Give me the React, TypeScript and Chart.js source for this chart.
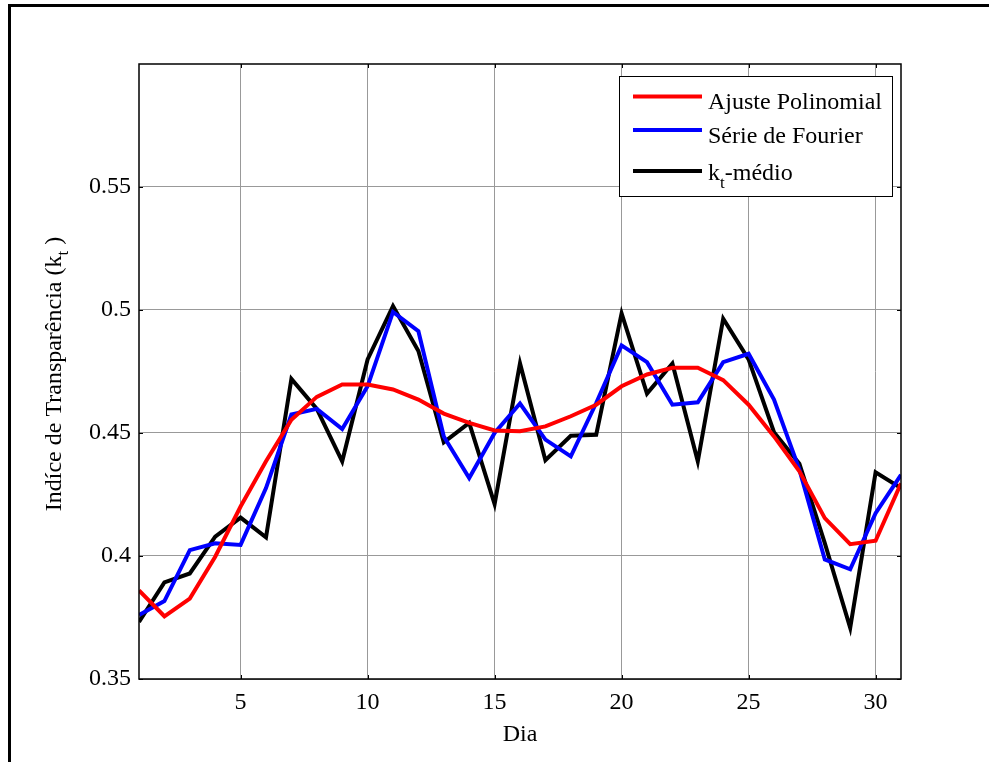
import React, { useEffect, useRef } from "react";
import { Chart, registerables } from "chart.js";

Chart.register(...registerables);

const days = [1, 2, 3, 4, 5, 6, 7, 8, 9, 10, 11, 12, 13, 14, 15, 16, 17, 18, 19, 20, 21, 22, 23, 24, 25, 26, 27, 28, 29, 30, 31];

const ajustePolinomial = [0.386, 0.3755, 0.3827, 0.3997, 0.4201, 0.4385, 0.4554, 0.4647, 0.4697, 0.4697, 0.4677, 0.4636, 0.4579, 0.4541, 0.451, 0.4507, 0.4527, 0.4568, 0.4615, 0.469, 0.4738, 0.4765, 0.4765, 0.4715, 0.4615, 0.4486, 0.4344, 0.4154, 0.4048, 0.4062, 0.4296];

const serieFourier = [0.376, 0.3817, 0.4024, 0.4052, 0.4045, 0.4276, 0.4575, 0.4598, 0.4516, 0.469, 0.4992, 0.4914, 0.4486, 0.4317, 0.45, 0.462, 0.4473, 0.4405, 0.4622, 0.4856, 0.4788, 0.4615, 0.4625, 0.4788, 0.4822, 0.4636, 0.4351, 0.3986, 0.3946, 0.4174, 0.433];

const ktMedio = [0.3732, 0.3893, 0.3929, 0.4079, 0.4156, 0.4076, 0.472, 0.4598, 0.4385, 0.4799, 0.5016, 0.4833, 0.4462, 0.4541, 0.4211, 0.4783, 0.4389, 0.4489, 0.4493, 0.4986, 0.466, 0.4783, 0.4385, 0.4965, 0.4799, 0.4503, 0.4375, 0.4052, 0.3708, 0.434, 0.4276];

const xTicks = [5, 10, 15, 20, 25, 30];
const yTicks = [0.35, 0.4, 0.45, 0.5, 0.55];
const yTickLabels = ["0.35", "0.4", "0.45", "0.5", "0.55"];

const xTitle = "Dia";
const yTitleMain = "Indíce de Transparência (k";
const yTitleSub = "t";
const yTitleEnd = " )";

const seriesLabels = ["Ajuste Polinomial", "Série de Fourier", "k-médio"];
const seriesColors = ["#ff0000", "#0000ff", "#000000"];

const FONT = "'Liberation Serif', 'Times New Roman', serif";

const decorPlugin = {
  id: "decor",
  beforeDraw(chart: any) {
    const { ctx, width, height } = chart;
    ctx.save();
    ctx.fillStyle = "#ffffff";
    ctx.fillRect(0, 0, width, height);
    ctx.restore();
  },
  afterDraw(chart: any) {
    const { ctx, chartArea, scales } = chart;
    const { left, right, top, bottom } = chartArea;
    const xs = scales.x;
    const ys = scales.y;
    ctx.save();
    // box
    ctx.strokeStyle = "#000";
    ctx.lineWidth = 1.5;
    ctx.strokeRect(left, top, right - left, bottom - top);
    // inward ticks
    ctx.lineWidth = 1;
    ctx.beginPath();
    for (const t of xTicks) {
      const px = Math.round(xs.getPixelForValue(t)) + 0.5;
      ctx.moveTo(px, bottom);
      ctx.lineTo(px, bottom - 4);
      ctx.moveTo(px, top);
      ctx.lineTo(px, top + 4);
    }
    for (const t of yTicks) {
      const py = Math.round(ys.getPixelForValue(t)) + 0.5;
      ctx.moveTo(left, py);
      ctx.lineTo(left + 4, py);
      ctx.moveTo(right, py);
      ctx.lineTo(right - 4, py);
    }
    ctx.stroke();

    // x title
    ctx.fillStyle = "#000";
    ctx.font = `24px ${FONT}`;
    ctx.textAlign = "center";
    ctx.textBaseline = "alphabetic";
    ctx.fillText(xTitle, (left + right) / 2, 741);

    // y title (rotated with subscript)
    const mainFont = `24px ${FONT}`;
    const subFont = `17px ${FONT}`;
    ctx.font = mainFont;
    const w1 = ctx.measureText(yTitleMain).width;
    const w3 = ctx.measureText(yTitleEnd).width;
    ctx.font = subFont;
    const w2 = ctx.measureText(yTitleSub).width;
    const total = w1 + w2 + w3;
    ctx.save();
    ctx.translate(61, 374);
    ctx.rotate(-Math.PI / 2);
    ctx.textAlign = "left";
    ctx.textBaseline = "alphabetic";
    let cx = -total / 2;
    ctx.font = mainFont;
    ctx.fillText(yTitleMain, cx, 0);
    cx += w1;
    ctx.font = subFont;
    ctx.fillText(yTitleSub, cx, 7);
    cx += w2;
    ctx.font = mainFont;
    ctx.fillText(yTitleEnd, cx, 0);
    ctx.restore();

    // legend
    const lx = right - 282;
    const ly = top + 12;
    const lw = 273;
    const lh = 120;
    ctx.fillStyle = "#fff";
    ctx.fillRect(lx, ly, lw, lh);
    ctx.strokeStyle = "#000";
    ctx.lineWidth = 1;
    ctx.strokeRect(lx + 0.5, ly + 0.5, lw, lh);
    const lineYs = [ly + 20.5, ly + 54, ly + 95];
    const baseYs = [ly + 33, ly + 66.5, ly + 104];
    for (let i = 0; i < seriesLabels.length; i++) {
      ctx.strokeStyle = seriesColors[i];
      ctx.lineWidth = 4;
      ctx.beginPath();
      ctx.moveTo(lx + 14, lineYs[i]);
      ctx.lineTo(lx + 83, lineYs[i]);
      ctx.stroke();
      ctx.fillStyle = "#000";
      ctx.textAlign = "left";
      ctx.textBaseline = "alphabetic";
      const tx = lx + 89;
      if (i === 2) {
        ctx.font = mainFont;
        ctx.fillText("k", tx, baseYs[i]);
        const kw = ctx.measureText("k").width;
        ctx.font = subFont;
        ctx.fillText("t", tx + kw, baseYs[i] + 8);
        const tw = ctx.measureText("t").width;
        ctx.font = mainFont;
        ctx.fillText(seriesLabels[i].slice(1), tx + kw + tw, baseYs[i]);
      } else {
        ctx.font = mainFont;
        ctx.fillText(seriesLabels[i], tx, baseYs[i]);
      }
    }
    ctx.restore();
  },
};

export default function App() {
  const canvasRef = useRef<HTMLCanvasElement | null>(null);

  useEffect(() => {
    if (!canvasRef.current) return;
    const mk = (vals: number[]) => days.map((d, i) => ({ x: d, y: vals[i] }));
    const chart = new Chart(canvasRef.current, {
      type: "line",
      data: {
        datasets: [
          { label: seriesLabels[0], data: mk(ajustePolinomial), borderColor: seriesColors[0], borderWidth: 4, pointRadius: 0, tension: 0, fill: false },
          { label: seriesLabels[1], data: mk(serieFourier), borderColor: seriesColors[1], borderWidth: 4, pointRadius: 0, tension: 0, fill: false },
          { label: seriesLabels[2], data: mk(ktMedio), borderColor: seriesColors[2], borderWidth: 4, pointRadius: 0, tension: 0, fill: false },
        ],
      },
      options: {
        responsive: false,
        animation: false,
        layout: { padding: { top: 64, right: 88, left: 0, bottom: 0 } },
        plugins: { legend: { display: false }, tooltip: { enabled: false } },
        scales: {
          x: {
            type: "linear",
            min: 1,
            max: 31,
            afterBuildTicks: (scale: any) => {
              scale.ticks = xTicks.map((v) => ({ value: v }));
            },
            afterFit: (scale: any) => {
              scale.height = 83;
            },
            grid: { color: "#999999", lineWidth: 1, drawTicks: false },
            border: { display: false },
            ticks: {
              color: "#000",
              padding: 9,
              maxRotation: 0,
              font: { family: FONT, size: 24 },
              callback: (v: any) => String(v),
            },
          },
          y: {
            type: "linear",
            min: 0.35,
            max: 0.6,
            afterBuildTicks: (scale: any) => {
              scale.ticks = yTicks.map((v) => ({ value: v }));
            },
            afterFit: (scale: any) => {
              scale.width = 139;
            },
            grid: { color: "#999999", lineWidth: 1, drawTicks: false },
            border: { display: false },
            ticks: {
              color: "#000",
              padding: 8,
              font: { family: FONT, size: 24 },
              callback: (v: any) => {
                const idx = yTicks.findIndex((t) => Math.abs(t - v) < 1e-9);
                return idx >= 0 ? yTickLabels[idx] : "";
              },
            },
          },
        },
      },
      plugins: [decorPlugin],
    } as any);
    return () => chart.destroy();
  }, []);

  return (
    <div style={{ position: "absolute", left: 0, top: 0, width: 989, height: 762, overflow: "hidden", background: "#fff" }}>
      <canvas ref={canvasRef} width={989} height={762} style={{ position: "absolute", left: 0, top: 0, width: 989, height: 762 }} />
      <div style={{ position: "absolute", left: 8, top: 4, width: 1200, height: 1200, borderLeft: "3px solid #000", borderTop: "3px solid #000", pointerEvents: "none" }} />
    </div>
  );
}
